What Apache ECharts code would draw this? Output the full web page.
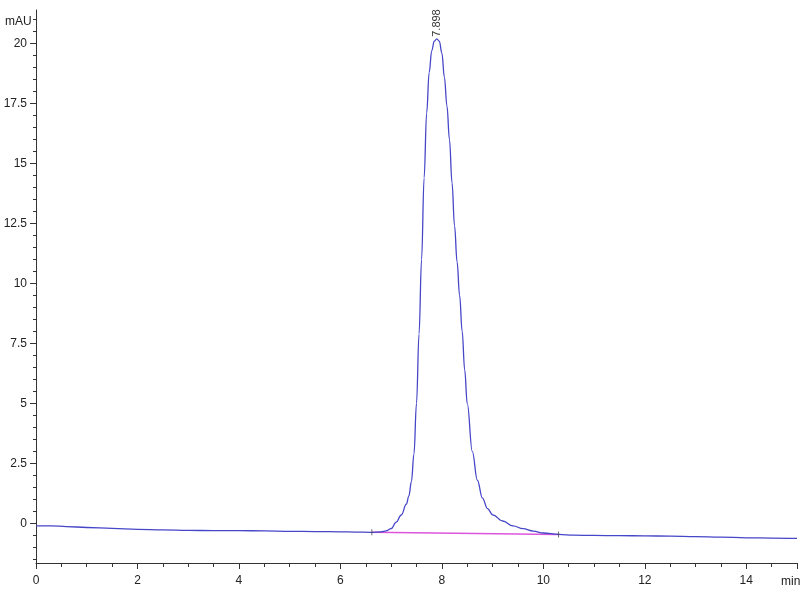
<!DOCTYPE html>
<html>
<head>
<meta charset="utf-8">
<script src="https://cdn.jsdelivr.net/npm/echarts@6/dist/echarts.min.js"></script>
<style>
  html, body { margin: 0; padding: 0; background: #fff; }
  #chart { width: 800px; height: 600px; }
</style>
</head>
<body>
<div id="chart"></div>
<script>
// retention time (min) and signal (mAU)
const time = [0, 0.3, 0.6, 1, 1.5, 2, 2.5, 3, 3.5, 4, 4.5, 5, 5.5, 6, 6.3, 6.6, 6.8, 6.9, 7.0, 7.1, 7.2, 7.3, 7.35, 7.4, 7.45, 7.5, 7.55, 7.6, 7.65, 7.7, 7.75, 7.8, 7.85, 7.9, 7.95, 8.0, 8.05, 8.1, 8.15, 8.2, 8.25, 8.3, 8.35, 8.4, 8.45, 8.5, 8.6, 8.7, 8.8, 8.9, 9.0, 9.2, 9.4, 9.6, 9.8, 10.0, 10.3, 10.6, 11, 11.5, 12, 12.5, 13, 13.5, 14, 14.5, 15];
const signal = [-0.1, -0.1, -0.13, -0.17, -0.21, -0.25, -0.27, -0.29, -0.3, -0.3, -0.31, -0.33, -0.34, -0.35, -0.36, -0.37, -0.35, -0.31, -0.22, 0.05, 0.35, 0.8, 1.15, 1.75, 2.9, 5.0, 7.9, 11.0, 14.4, 17.1, 18.8, 19.7, 20.1, 20.2, 20.1, 19.6, 18.6, 17.4, 16.0, 14.2, 12.4, 10.9, 9.5, 8.0, 6.4, 5.0, 3.0, 1.8, 1.05, 0.62, 0.36, 0.1, -0.1, -0.22, -0.32, -0.4, -0.46, -0.49, -0.5, -0.51, -0.52, -0.53, -0.55, -0.57, -0.6, -0.61, -0.62];

// integration baseline of the peak
const baseTime = [6.62, 10.3];
const baseSignal = [-0.37, -0.46];

const peakTime = 7.898;
const peakSignal = 20.2;
const peakLabel = '7.898';

const xTicks = [0, 2, 4, 6, 8, 10, 12, 14];
const yLabels = [0, 2.5, 5, 7.5, 10, 12.5, 15, 17.5, 20];

let yMinor = [];
for (let v = -1.5; v <= 21.01; v += 0.5) {
    yMinor.push(Math.round(v * 10) / 10);
}

const font = 'Liberation Sans, Arial, sans-serif';
const axisColor = '#333';
const yMin = -1.65;
const yMax = 21.4;

let chart = echarts.init(document.getElementById('chart'), null, { renderer: 'canvas' });

let option = {
    animation: false,
    grid: { left: 36, right: 3, top: 10, bottom: 37, containLabel: false },
    xAxis: {
        type: 'value',
        min: 0,
        max: 15,
        interval: 2,
        axisLine: { onZero: false, lineStyle: { color: axisColor, width: 1 } },
        axisTick: { length: 6, lineStyle: { color: axisColor } },
        minorTick: { show: true, splitNumber: 4, length: 4, lineStyle: { color: axisColor } },
        splitLine: { show: false },
        axisLabel: {
            color: '#222', fontFamily: font, fontSize: 12, margin: 12,
            showMaxLabel: false,
            formatter: function (v) { return xTicks.indexOf(v) >= 0 ? String(v) : ''; }
        }
    },
    yAxis: [{
        type: 'value',
        min: yMin,
        max: yMax,
        axisLine: { show: true, onZero: false, lineStyle: { color: axisColor, width: 1 } },
        axisTick: { show: true, length: 6, customValues: yLabels, lineStyle: { color: axisColor } },
        splitLine: { show: false },
        axisLabel: {
            customValues: yLabels,
            color: '#222', fontFamily: font, fontSize: 12, margin: 9
        }
    }, {
        type: 'value',
        min: yMin,
        max: yMax,
        position: 'left',
        axisLine: { show: false },
        axisTick: { show: true, length: 3, customValues: yMinor, lineStyle: { color: axisColor } },
        splitLine: { show: false },
        axisLabel: { show: false }
    }],
    graphic: [{
        type: 'text', left: 5, top: 16,
        style: { text: 'mAU', fill: '#222', font: '12px ' + font }
    }, {
        type: 'text', left: 781, top: 576,
        style: { text: 'min', fill: '#222', font: '12px ' + font }
    }],
    series: [{
        type: 'line',
        name: 'signal',
        data: time.map((t, i) => [t, signal[i]]),
        showSymbol: false,
        smooth: 0.4,
        smoothMonotone: 'x',
        lineStyle: { color: '#4646c8', width: 1.3 },
        z: 3,
        markPoint: {
            symbol: 'circle',
            symbolSize: 0,
            data: [{ coord: [peakTime, peakSignal] }],
            label: {
                show: true,
                formatter: peakLabel,
                rotate: 90,
                position: [0, -2],
                align: 'left',
                verticalAlign: 'middle',
                color: '#333',
                fontFamily: font,
                fontSize: 11
            }
        }
    }, {
        type: 'line',
        name: 'baseline',
        data: baseTime.map((t, i) => [t, baseSignal[i]]),
        showSymbol: false,
        lineStyle: { color: '#dd55dd', width: 1.5 },
        z: 2
    }, {
        type: 'scatter',
        name: 'marks',
        data: [[baseTime[0], baseSignal[0]], [baseTime[1], baseSignal[1]]],
        symbol: 'rect',
        symbolSize: [1, 6],
        itemStyle: { color: '#444' },
        z: 4
    }]
};

chart.setOption(option);
</script>
</body>
</html>
